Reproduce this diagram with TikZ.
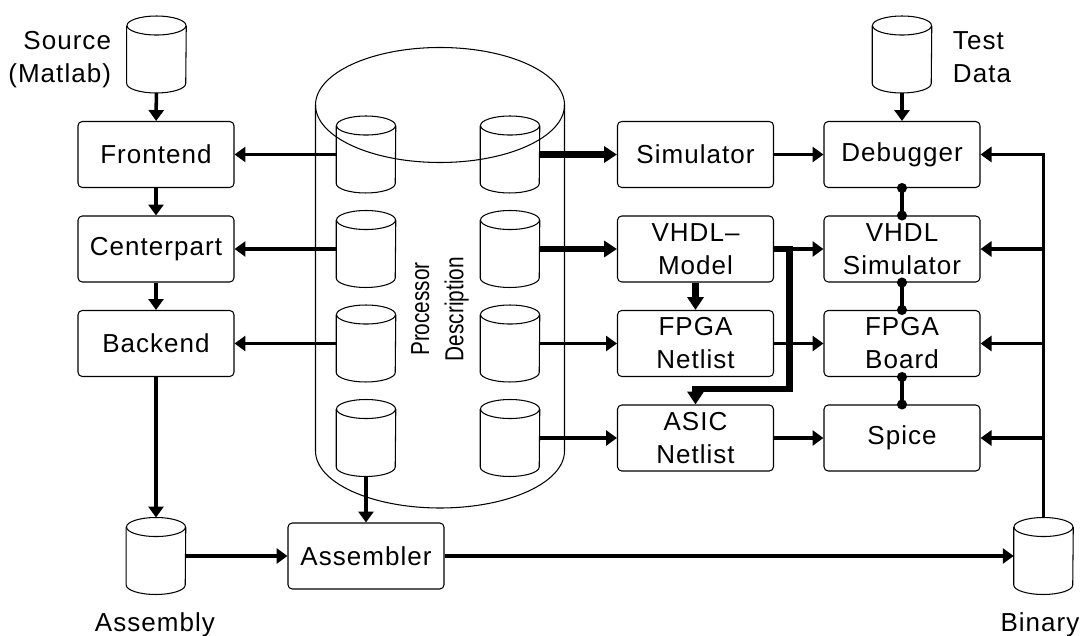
\documentclass[tikz,border=0pt]{standalone}
\usepackage{fontspec}
\setmainfont{Liberation Sans}[LetterSpace=4]
\newfontfamily\narrowfont{Liberation Sans}
\usepackage{tikz}
\usetikzlibrary{arrows.meta, positioning, calc, shapes.geometric}
\tikzstyle{block} = [draw, line width=0.75pt, rounded corners=3pt, minimum width=3.9cm, minimum height=1.65cm, inner sep=0pt, align=center]
\tikzstyle{store} = [minimum width=1.475cm, minimum height=1.91cm, inner sep=0pt]
\tikzstyle{outline} = [line width=0.75pt]
\tikzstyle{flow} = [line width=2.5pt, -{Triangle[length=7.8pt, width=10.7pt]}]
\tikzstyle{bigflow} = [line width=4.3pt, -{Triangle[length=9.2pt, width=11.4pt]}]
\tikzstyle{link} = [line width=2.5pt, {Circle[length=7pt]}-{Circle[length=7pt]}, shorten <=-3.5pt, shorten >=-3.5pt]

% database drum: name, position
\newcommand{\storage}[2]{%
  \node [store] (#1) at (#2) {};
  \draw [outline] ($(#1.north)+(0,-0.95)$) ellipse (2.95 and 0.95);
  \draw [outline] ($(#1.north west)+(0,-0.95)$) -- ($(#1.south west)+(0,0.95)$)
    arc (180:360:2.95 and 0.95) -- ($(#1.north east)+(0,-0.95)$);
}

\begin{document}
\begin{tikzpicture}[x=0.25cm, y=0.25cm, font=\fontsize{18.5}{23.5}\selectfont]
\useasboundingbox (0, 0) rectangle (108.2, 63.5);

% Processor description
\draw [outline] (44, 53) ellipse (12.45 and 5.75);
\draw [outline] (31.55, 53) -- (31.55, 18.4) arc (180:360:12.45 and 5.7) -- (56.45, 53);
\node [rotate=90, xscale=0.8, align=center, font=\narrowfont\fontsize{18.5}{24.5}\selectfont] (pdtext) at (44, 32.6) {Processor\\Description};

\storage{pdl1}{36.6, 48.05}
\storage{pdl2}{36.6, 38.6}
\storage{pdl3}{36.6, 29.15}
\storage{pdl4}{36.6, 19.7}
\storage{pdr1}{51.0, 48.05}
\storage{pdr2}{51.0, 38.6}
\storage{pdr3}{51.0, 29.15}
\storage{pdr4}{51.0, 19.7}

% Compiler chain
\storage{source}{15.65, 58.05}
\node [anchor=east, align=right] (sourcetext) at (11.6, 57.5) {Source\\(Matlab)};
\node [block] (frontend) at (15.6, 48.05) {Frontend};
\node [block] (centerpart) at (15.6, 38.6) {Centerpart};
\node [block] (backend) at (15.6, 29.15) {Backend};
\storage{assembly}{15.6, 7.9}
\node (assemblytext) at (15.5, 1.0) {Assembly};
\node [block] (assembler) at (36.6, 7.9) {Assembler};
\storage{binary}{104.35, 7.9}
\node (binarytext) at (104.0, 1.0) {Binary};

% Targets
\node [block] (simulator) at (69.55, 48.05) {Simulator};
\node [block] (vhdlmodel) at (69.55, 38.6) {VHDL–\\Model};
\node [block] (fpganet) at (69.55, 29.15) {FPGA\\Netlist};
\node [block] (asicnet) at (69.55, 19.7) {ASIC\\Netlist};

% Test side
\storage{testdata}{90.2, 58.05}
\node [anchor=west, align=left] (testtext) at (94.8, 57.8) {Test\\Data};
\node [block] (debugger) at (90.2, 48.05) {Debugger};
\node [block] (vhdlsim) at (90.2, 38.6) {VHDL\\Simulator};
\node [block] (fpgaboard) at (90.2, 29.15) {FPGA\\Board};
\node [block] (spice) at (90.2, 19.7) {Spice};

% Compiler flow
\draw [flow] (source) -- (frontend);
\draw [flow] (frontend) -- (centerpart);
\draw [flow] (centerpart) -- (backend);
\draw [flow] (backend) -- (assembly);
\draw [flow] (assembly) -- (assembler);
\draw [flow] (assembler) -- (binary);
\draw [flow] (pdl1) -- (frontend);
\draw [flow] (pdl2) -- (centerpart);
\draw [flow] (pdl3) -- (backend);
\draw [flow] (pdl4) -- (assembler);

% Generated tools
\draw [bigflow] (pdr1) -- (simulator);
\draw [bigflow] (pdr2) -- (vhdlmodel);
\draw [flow] (pdr3) -- (fpganet);
\draw [flow] (pdr4) -- (asicnet);
\draw [bigflow] (vhdlmodel) -- (fpganet);
\coordinate (split) at (78.95, 38.6);
\coordinate (drop) at (69.55, 24.6);
\draw [bigflow] (vhdlmodel.east) -- (split) |- (drop) -- (asicnet.north);

\draw [flow] (simulator) -- (debugger);
\draw [flow] (vhdlmodel) -- (vhdlsim);
\draw [flow] (fpganet) -- (fpgaboard);
\draw [flow] (asicnet) -- (spice);
\draw [flow] (testdata) -- (debugger);

% Binary bus
\draw [flow] (binary.north) |- (debugger.east);
\coordinate (bus2) at (binary.north |- vhdlsim.east);
\coordinate (bus3) at (binary.north |- fpgaboard.east);
\coordinate (bus4) at (binary.north |- spice.east);
\draw [flow] (bus2) -- (vhdlsim.east);
\draw [flow] (bus3) -- (fpgaboard.east);
\draw [flow] (bus4) -- (spice.east);

% Coupling
\draw [link] (debugger) -- (vhdlsim);
\draw [link] (vhdlsim) -- (fpgaboard);
\draw [link] (fpgaboard) -- (spice);

\end{tikzpicture}
\end{document}
